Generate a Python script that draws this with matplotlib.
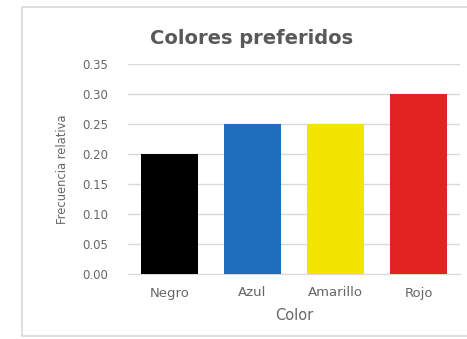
import matplotlib
matplotlib.use("Agg")
import matplotlib.pyplot as plt
from matplotlib.patches import Rectangle

plt.rcParams['font.family'] = ['DejaVu Sans']

categories = ['Negro', 'Azul', 'Amarillo', 'Rojo']
frecuencia = [0.20, 0.25, 0.25, 0.30]
bar_colors = ['#000000', '#1F6EBD', '#F2E600', '#E32322']
y_ticks = [0.00, 0.05, 0.10, 0.15, 0.20, 0.25, 0.30, 0.35]

W, H = 467, 339
fig = plt.figure(figsize=(W / 100, H / 100), dpi=100)
fig.patch.set_facecolor('white')

# chart frame, Excel style (kept behind the axes)
fig.add_artist(Rectangle((22 / W, 1 - 336 / H), 460 / W, 329 / H,
                         transform=fig.transFigure, facecolor='white',
                         edgecolor='#D9D9D9', linewidth=1.2, zorder=-5))

# plot area in pixel coordinates
left, right, top, bottom = 128, 460, 64, 274
ax = fig.add_axes([left / W, 1 - bottom / H, (right - left) / W, (bottom - top) / H])
ax.set_facecolor('none')

ax.bar(range(len(categories)), frecuencia, width=0.675, color=bar_colors, zorder=3)

ax.set_ylim(0, 0.35)
ax.set_xlim(-0.5, len(categories) - 0.5)
ax.set_yticks(y_ticks)
ax.set_yticklabels([f'{v:.2f}' for v in y_ticks])
ax.set_xticks(range(len(categories)))
ax.set_xticklabels(categories)
ax.grid(axis='y', color='#D9D9D9', linewidth=1.0, zorder=0)
ax.tick_params(length=0, colors='#666666')
ax.tick_params(axis='x', labelsize=9.5, pad=9)
ax.tick_params(axis='y', labelsize=8.5, pad=14)
for s in ['top', 'right', 'left']:
    ax.spines[s].set_visible(False)
ax.spines['bottom'].set_color('#D9D9D9')

ax.set_xlabel('Color', fontsize=10.5, color='#666666', labelpad=6)
ax.set_ylabel('Frecuencia relativa', fontsize=8.3, color='#666666', labelpad=10)

fig.text(252 / W, 1 - 38 / H, 'Colores preferidos', ha='center', va='center',
         fontsize=14, fontweight='bold', color='#595959')

fig.savefig('out.png', dpi=100)
